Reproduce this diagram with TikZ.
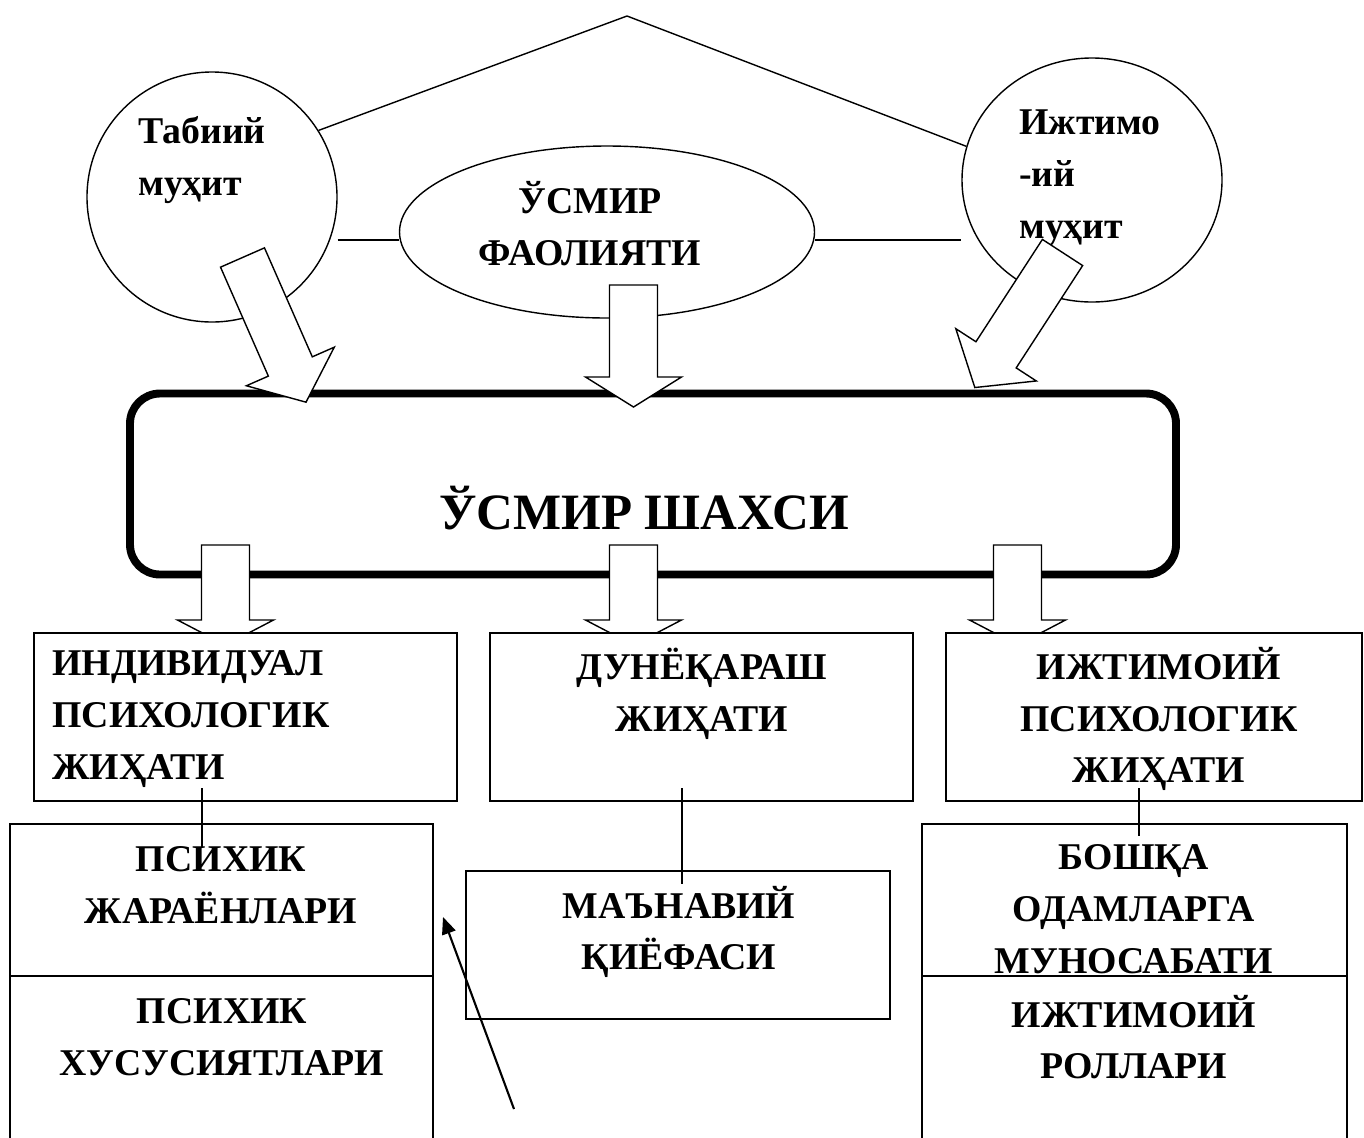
\documentclass[tikz,border=0pt]{standalone}
\usepackage{fontspec}
\setmainfont{Liberation Serif}
\usetikzlibrary{shapes.geometric,arrows.meta}

\newcommand{\pxu}{0.02cm}
\newcommand{\boxfont}{\fontsize{21.5}{29.5}\selectfont\bfseries}

\tikzset{
  thinline/.style={line width=0.8pt},
  box/.style={draw, thinline, fill=white, inner sep=0pt},
  txt/.style={font=\boxfont, inner sep=0pt, align=center},
  pics/fatarrow/.style args={#1/#2}{code={
    \draw[thinline, fill=white] (0,24) -- (#1-#2,24) -- (#1-#2,48) -- (#1,0)
      -- (#1-#2,-48) -- (#1-#2,-24) -- (0,-24) -- cycle;
  }}
}

\begin{document}
\begin{tikzpicture}[x=\pxu, y=-\pxu]
    \useasboundingbox (0,0) rectangle (1364,1137);

    % ---- surroundings and activity ------------------
    \node[draw, thinline, circle, minimum size=250*\pxu, inner sep=0pt] (tab) at (212,197) {};
    \node[draw, thinline, ellipse, minimum width=260*\pxu, minimum height=244*\pxu, inner sep=0pt] (ijt) at (1092,180) {};
    \node[draw, thinline, ellipse, minimum width=415*\pxu, minimum height=172*\pxu, inner sep=0pt] (usm) at (607,232) {};

    \node[txt, align=left, anchor=west] (tabt) at (138,160) {Табиий\\муҳит};
    \node[txt, align=left, anchor=west] (ijtt) at (1019,178) {Ижтимо\\-ий\\муҳит};
    \node[txt] (usmt) at (590,224) {ЎСМИР\\ФАОЛИЯТИ};

    % ---- roof and side links ------------------------
    \coordinate (apex) at (627,16);
    \draw[thinline] (tab.32) -- (apex) -- (ijt.165);
    \coordinate (lmid) at ([yshift=-0.16cm]usm.west);
    \coordinate (rmid) at ([yshift=-0.16cm]usm.east);
    \draw[thinline] (lmid -| tab.east) -- (lmid);
    \draw[thinline] (rmid) -- (rmid -| ijt.west);

    % ---- personality box ----------------------------
    \node[draw, line width=4.5pt, rounded corners=0.6cm, minimum width=1046*\pxu,
          minimum height=181*\pxu, inner sep=0pt] (shaxs) at (653,484) {};
    \node[font=\fontsize{29}{36}\selectfont\bfseries, inner sep=0pt] (shaxst) at (644,508) {ЎСМИР ШАХСИ};

    % ---- block arrows into the box ------------------
    \pic[rotate=-66.3] at (242.5,257.5) {fatarrow=158/39};
    \pic[rotate=-90] at (633.5,285) {fatarrow=122/30};
    \pic[rotate=-123] at (1062.5,252.5) {fatarrow=161/39};

    % ---- block arrows out of the box ----------------
    \foreach \xa in {225.5,633.5,1017.5}
      \pic[rotate=-90] at (\xa,545) {fatarrow=100/25};

    % ---- first row ----------------------------------
    \node[box, minimum width=423*\pxu, minimum height=168*\pxu] (ind) at (245.5,717) {};
    \node[box, minimum width=423*\pxu, minimum height=168*\pxu] (dun) at (701.5,717) {};
    \node[box, minimum width=416*\pxu, minimum height=168*\pxu] (ijm) at (1154,717) {};

    \node[txt, align=left, anchor=west] (indt) at (52,719) {ИНДИВИДУАЛ\\ПСИХОЛОГИК\\ЖИҲАТИ};
    \node[txt] (dunt) at (702,694) {ДУНЁҚАРАШ\\ЖИҲАТИ};
    \node[txt] (ijmt) at (1159,719) {ИЖТИМОИЙ\\ПСИХОЛОГИК\\ЖИҲАТИ};

    % ---- second row ---------------------------------
    \node[box, minimum width=423*\pxu, minimum height=152*\pxu] (psj) at (221.5,900) {};
    \node[box, minimum width=423*\pxu, minimum height=180*\pxu] (psx) at (221.5,1066) {};
    \node[box, minimum width=424*\pxu, minimum height=148*\pxu] (mav) at (678,945) {};
    \node[box, minimum width=425*\pxu, minimum height=152*\pxu] (bos) at (1134.5,900) {};
    \node[box, minimum width=425*\pxu, minimum height=180*\pxu] (rol) at (1134.5,1066) {};

    \node[txt] (psjt) at (221,885) {ПСИХИК\\ЖАРАЁНЛАРИ};
    \node[txt] (psxt) at (222,1037) {ПСИХИК\\ХУСУСИЯТЛАРИ};
    \node[txt] (mavt) at (679,932) {МАЪНАВИЙ\\ҚИЁФАСИ};
    \node[txt] (bost) at (1134,909) {БОШҚА\\ОДАМЛАРГА\\МУНОСАБАТИ};
    \node[txt] (rolt) at (1134,1037) {ИЖТИМОИЙ\\РОЛЛАРИ};

    % ---- links between rows -------------------------
    \coordinate (la) at (202,788);  \coordinate (lb) at (202,847);
    \coordinate (ma) at (682,788);  \coordinate (mb) at (682,884);
    \coordinate (ra) at (1139,788); \coordinate (rb) at (1139,836);
    \draw[thinline] (la) -- (lb);
    \draw[thinline] (ma) -- (mb);
    \draw[thinline] (ra) -- (rb);

    % ---- pointer ------------------------------------
    \coordinate (ptail) at (514,1109);
    \coordinate (phead) at (443,917);
    \draw[line width=1.2pt, -{Triangle[length=0.34cm,width=0.28cm]}] (ptail) -- (phead);
\end{tikzpicture}
\end{document}
